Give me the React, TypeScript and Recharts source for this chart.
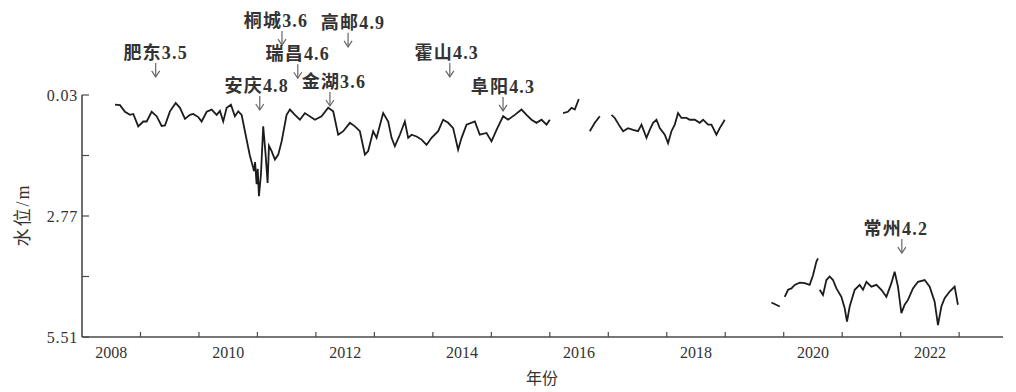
import React from 'react';
import { LineChart, Line, XAxis, YAxis, ReferenceDot } from 'recharts';

// 井水位（埋深, m）按小数年份记录，断档处分段
const run1Years = [
  2008.564, 2008.65, 2008.735, 2008.821, 2008.877, 2008.962, 2009.048, 2009.106, 2009.191, 2009.277,
  2009.362, 2009.419, 2009.504, 2009.602, 2009.675, 2009.761, 2009.846, 2009.903, 2009.988, 2010.046,
  2010.132, 2010.217, 2010.303, 2010.359, 2010.415, 2010.474, 2010.547, 2010.615, 2010.672, 2010.73,
  2010.786, 2010.872, 2010.928, 2010.94, 2010.96, 2010.986, 2011.005, 2011.026, 2011.06, 2011.099,
  2011.14, 2011.174, 2011.197, 2011.243, 2011.299, 2011.356, 2011.414, 2011.499, 2011.556, 2011.641,
  2011.726, 2011.812, 2011.983, 2012.097, 2012.21, 2012.296, 2012.381, 2012.467, 2012.581, 2012.667,
  2012.752, 2012.838, 2012.894, 2012.979, 2013.038, 2013.15, 2013.236, 2013.294, 2013.35, 2013.436,
  2013.521, 2013.578, 2013.636, 2013.721, 2013.807, 2013.892, 2013.978, 2014.091, 2014.176, 2014.262,
  2014.347, 2014.432, 2014.491, 2014.576, 2014.718, 2014.803, 2014.918, 2015.003, 2015.089, 2015.202,
  2015.287, 2015.402, 2015.516, 2015.602, 2015.687, 2015.773, 2015.858, 2015.944, 2016.0,
];
const run1Levels = [
  0.25, 0.26, 0.41, 0.48, 0.46, 0.74, 0.63, 0.63, 0.41, 0.51,
  0.73, 0.72, 0.4, 0.21, 0.32, 0.57, 0.48, 0.46, 0.53, 0.63,
  0.41, 0.36, 0.48, 0.39, 0.63, 0.32, 0.25, 0.51, 0.4, 0.48,
  0.85, 1.41, 1.68, 1.75, 1.55, 2.05, 1.7, 2.32, 1.83, 0.74,
  1.38, 2.02, 1.18, 1.3, 1.49, 1.38, 1.08, 0.48, 0.36, 0.48,
  0.59, 0.44, 0.59, 0.51, 0.32, 0.4, 0.93, 0.85, 0.66, 0.74,
  0.85, 1.38, 1.3, 0.85, 1.0, 0.44, 0.63, 1.0, 1.19, 0.93,
  0.63, 1.0, 0.93, 0.97, 1.04, 1.16, 1.0, 0.85, 0.59, 0.66,
  0.78, 1.27, 1.0, 0.7, 0.63, 0.93, 0.89, 1.08, 0.82, 0.51,
  0.59, 0.48, 0.36, 0.48, 0.59, 0.66, 0.59, 0.7, 0.59,
];

const run2Years = [2016.227, 2016.308, 2016.371, 2016.427, 2016.496];
const run2Levels = [0.44, 0.41, 0.32, 0.36, 0.12];

const run3Years = [2016.684, 2016.769, 2016.855];
const run3Levels = [0.85, 0.66, 0.51];

const run4Years = [
  2017.055, 2017.111, 2017.197, 2017.253, 2017.338, 2017.424, 2017.509, 2017.568, 2017.653, 2017.709,
  2017.766, 2017.824, 2017.88, 2017.966, 2018.022, 2018.08, 2018.137, 2018.193, 2018.251, 2018.337,
  2018.393, 2018.479, 2018.564, 2018.621, 2018.706, 2018.764, 2018.849, 2018.906, 2018.962, 2018.991,
];
const run4Levels = [
  0.48, 0.55, 0.74, 0.85, 0.78, 0.82, 0.85, 0.7, 1.0, 0.82,
  0.66, 0.59, 0.78, 0.93, 1.12, 0.85, 0.7, 0.44, 0.55, 0.55,
  0.59, 0.59, 0.66, 0.59, 0.7, 0.7, 0.93, 0.78, 0.66, 0.59,
];

const run5Years = [2019.79, 2019.932];
const run5Levels = [4.73, 4.82];

const run6Years = [2020.017, 2020.074, 2020.132, 2020.188, 2020.274, 2020.359, 2020.444, 2020.501, 2020.559, 2020.586];
const run6Levels = [4.6, 4.44, 4.41, 4.33, 4.28, 4.29, 4.33, 4.11, 3.8, 3.73];

const run7Years = [
  2020.615, 2020.672, 2020.73, 2020.786, 2020.843, 2020.901, 2020.986, 2021.043, 2021.082, 2021.128,
  2021.214, 2021.299, 2021.356, 2021.414, 2021.499, 2021.585, 2021.67, 2021.756, 2021.841, 2021.897,
  2021.954, 2022.012, 2022.068, 2022.125, 2022.21, 2022.296, 2022.41, 2022.496, 2022.581, 2022.638,
  2022.696, 2022.752, 2022.838, 2022.923, 2022.979,
];
const run7Levels = [
  4.44, 4.56, 4.22, 4.14, 4.22, 4.41, 4.6, 4.86, 5.16, 4.82,
  4.44, 4.33, 4.44, 4.26, 4.37, 4.33, 4.44, 4.6, 4.29, 4.03,
  4.37, 4.97, 4.78, 4.67, 4.41, 4.26, 4.22, 4.37, 4.71, 5.24,
  4.82, 4.63, 4.48, 4.37, 4.78,
];

// 地震事件：震中+震级、发震时间、箭头指向的水位
const quakeLabels = ['肥东3.5', '安庆4.8', '桐城3.6', '瑞昌4.6', '金湖3.6', '高邮4.9', '霍山4.3', '阜阳4.3', '常州4.2'];
const quakeYears = [2009.26, 2011.04, 2011.42, 2011.69, 2012.24, 2012.55, 2014.29, 2015.2, 2022.02];
const quakeTipLevels = [-0.38, 0.37, -1.1, -0.35, 0.28, -1.06, -0.38, 0.39, 3.61];

const yTicks = [0.03, 1.4, 2.77, 4.14, 5.51];
const yLabelled = [0.03, 2.77, 5.51];
const yearStarts = [2009, 2010, 2011, 2012, 2013, 2014, 2015, 2016, 2017, 2018, 2019, 2020, 2021, 2022, 2023];
const yearLabels = [2008, 2010, 2012, 2014, 2016, 2018, 2020, 2022];

// nudge crowded labels sideways so neighbours don't collide
const labelNudge: Record<string, number> = {
  '桐城3.6': -6,
  '高邮4.9': 5,
  '安庆4.8': -3,
  '金湖3.6': 4,
  '霍山4.3': -3,
  '常州4.2': -6,
};

const runs: [number[], number[]][] = [
  [run1Years, run1Levels],
  [run2Years, run2Levels],
  [run3Years, run3Levels],
  [run4Years, run4Levels],
  [run5Years, run5Levels],
  [run6Years, run6Levels],
  [run7Years, run7Levels],
];

const table: { t: number; level: number | null }[] = [];
runs.forEach(([ys, hs], i) => {
  if (i > 0) {
    const prev = runs[i - 1][0];
    table.push({ t: (prev[prev.length - 1] + ys[0]) / 2, level: null });
  }
  ys.forEach((t, j) => table.push({ t, level: hs[j] }));
});

// labels sit in the middle of even years, tick marks at each Jan 1
const labelPositions = yearLabels.map((y) => y + 0.5);
const xTicks = [...yearStarts, ...labelPositions].sort((a, b) => a - b);

const FONT = "'Liberation Serif', 'Noto Sans CJK SC', serif";
const AXIS = '#4a4a4a';

const XTick = (props: any) => {
  const { x, y, payload } = props;
  const v = payload.value as number;
  if (Number.isInteger(v)) {
    return <line x1={x} y1={y} x2={x} y2={y - 5} stroke={AXIS} strokeWidth={1.2} />;
  }
  return (
    <text x={x} y={y + 10} dy="0.71em" textAnchor="middle" fontFamily={FONT} fontSize={16} fill="#333">
      {Math.floor(v)}
    </text>
  );
};

const YTick = (props: any) => {
  const { x, y, payload } = props;
  const v = payload.value as number;
  return (
    <g>
      <line x1={x} y1={y} x2={x + 7} y2={y} stroke={AXIS} strokeWidth={1.2} />
      {yLabelled.includes(v) && (
        <text x={x - 4} y={y} dy="0.35em" textAnchor="end" fontFamily={FONT} fontSize={16} letterSpacing={0.8} fill="#333">
          {v.toFixed(2)}
        </text>
      )}
    </g>
  );
};

const QuakeMark = ({ cx, cy, label }: any) => {
  if (cx == null || cy == null) return null;
  const top = cy - 14;
  const tx = cx + (labelNudge[label] ?? 0);
  return (
    <g>
      <line x1={cx} y1={top} x2={cx} y2={cy} stroke="#666" strokeWidth={1.2} />
      <polyline points={`${cx - 4},${cy - 6} ${cx},${cy} ${cx + 4},${cy - 6}`} fill="none" stroke="#666" strokeWidth={1.2} />
      <text x={tx} y={top - 4} textAnchor="middle" fontFamily={FONT} fontSize={18} fontWeight="bold" letterSpacing={1.2} fill="#333">
        {label}
      </text>
    </g>
  );
};

export default function App() {
  return (
    <div style={{ position: 'relative', width: 1016, height: 392, background: '#fff' }}>
      <style>{'body{margin:0;background:#fff}'}</style>
      <LineChart width={1016} height={392} data={table} margin={{ top: 95, right: 13, bottom: 25, left: 22 }}>
        <XAxis
          dataKey="t"
          type="number"
          domain={[2008, 2023.75]}
          ticks={xTicks}
          interval={0}
          height={30}
          tickSize={0}
          tickMargin={0}
          tickLine={false}
          axisLine={{ stroke: AXIS, strokeWidth: 1.6 }}
          tick={<XTick />}
        />
        <YAxis
          type="number"
          reversed
          domain={[0.03, 5.51]}
          ticks={yTicks}
          interval={0}
          width={60}
          tickSize={0}
          tickMargin={0}
          tickLine={false}
          allowDataOverflow
          axisLine={{ stroke: AXIS, strokeWidth: 1.6 }}
          tick={<YTick />}
        />
        <Line
          dataKey="level"
          type="linear"
          stroke="#1c1c1c"
          strokeWidth={1.8}
          dot={false}
          connectNulls={false}
          isAnimationActive={false}
        />
        {quakeLabels.map((label, i) => (
          <ReferenceDot
            key={label}
            x={quakeYears[i]}
            y={quakeTipLevels[i]}
            r={0}
            ifOverflow="visible"
            shape={(p: any) => <QuakeMark {...p} label={label} />}
          />
        ))}
      </LineChart>
      <svg width={1016} height={392} style={{ position: 'absolute', left: 0, top: 0, pointerEvents: 'none' }}>
        <text x={542} y={384} textAnchor="middle" fontFamily={FONT} fontSize={16} fill="#333">
          年份
        </text>
        <text
          x={0}
          y={0}
          transform="translate(29 215) rotate(-90)"
          textAnchor="middle"
          fontFamily={FONT}
          fontSize={18}
          letterSpacing={2}
          fill="#333"
        >
          水位/m
        </text>
      </svg>
    </div>
  );
}
